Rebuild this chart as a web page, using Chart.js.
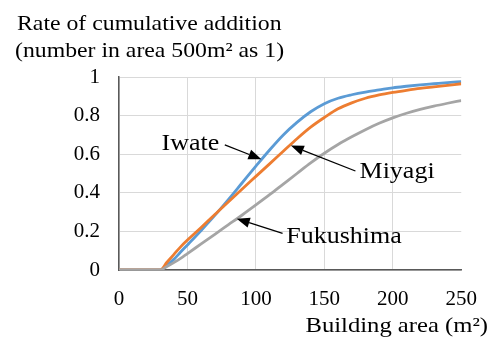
<!DOCTYPE html>
<html>
<head>
<meta charset="utf-8">
<script src="https://cdn.jsdelivr.net/npm/chart.js@4.4.1/dist/chart.umd.min.js"></script>
<style>
  html, body { margin: 0; padding: 0; background: #ffffff; }
  #wrap { width: 494px; height: 338px; }
</style>
</head>
<body>
<div id="wrap"><canvas id="chart" width="494" height="338"></canvas></div>
<script>
// Building area (m²) at which each cumulative rate is sampled
const areas = [0, 10, 20, 30, 35, 40, 45, 50, 60, 70, 80, 90, 100, 110, 120, 130, 140, 150, 160, 170, 180, 190, 200, 210, 220, 230, 240, 250];

// Cumulative rate per prefecture (count within 500 m² taken as 1)
const iwate     = [0, 0, 0, 0, 0.025, 0.055, 0.093, 0.13, 0.205, 0.283, 0.366, 0.452, 0.538, 0.622, 0.70, 0.765, 0.82, 0.862, 0.89, 0.908, 0.922, 0.933, 0.944, 0.952, 0.959, 0.965, 0.971, 0.976];
const miyagi    = [0, 0, 0, 0, 0.04, 0.08, 0.12, 0.155, 0.22, 0.288, 0.354, 0.42, 0.485, 0.55, 0.615, 0.68, 0.74, 0.79, 0.835, 0.866, 0.89, 0.907, 0.92, 0.931, 0.941, 0.949, 0.957, 0.965];
const fukushima = [0, 0, 0, 0, 0.018, 0.038, 0.06, 0.085, 0.135, 0.185, 0.235, 0.285, 0.337, 0.39, 0.445, 0.50, 0.555, 0.605, 0.65, 0.69, 0.727, 0.76, 0.788, 0.812, 0.832, 0.849, 0.864, 0.878];

// Axis ticks and labels
const xTickValues = [0, 50, 100, 150, 200, 250];
const yTickValues = [0, 0.2, 0.4, 0.6, 0.8, 1];
const yTickLabels = ['0', '0.2', '0.4', '0.6', '0.8', '1'];
const seriesNames = ['Iwate', 'Miyagi', 'Fukushima'];
const titleLines = ['Rate of cumulative addition', '(number in area 500m\u00B2 as 1)'];
const xAxisLabel = 'Building area (m\u00B2)';

const SERIF = '"Liberation Serif", "Times New Roman", serif';
const toPoints = (vals) => areas.map((a, i) => ({ x: a, y: vals[i] }));

// Writes text slightly widened horizontally
function wideText(ctx, text, x, y, size, stretch, align) {
  ctx.save();
  ctx.font = size + 'px ' + SERIF;
  ctx.fillStyle = '#000000';
  ctx.textBaseline = 'alphabetic';
  ctx.textAlign = 'left';
  const w = ctx.measureText(text).width * stretch;
  const left = align === 'right' ? x - w : x;
  ctx.translate(left, y);
  ctx.scale(stretch, 1);
  ctx.fillText(text, 0, 0);
  ctx.restore();
}

// Title above the value axis and label under the area axis
const captionPlugin = {
  id: 'captions',
  afterDraw(chart) {
    const ctx = chart.ctx;
    wideText(ctx, titleLines[0], 17, 30, 22, 1.08, 'left');
    wideText(ctx, titleLines[1], 15, 57, 22, 1.08, 'left');
    wideText(ctx, xAxisLabel, 488, 332, 22, 1.12, 'right');
  }
};

// Series names with arrows pointing at their curves (positions in data units)
const callouts = [
  { name: seriesNames[0], text: [31.1, 0.622], tail: [77.3, 0.648], tip: [104, 0.574] },
  { name: seriesNames[1], text: [175.7, 0.475], tail: [172.7, 0.513], tip: [125.5, 0.645] },
  { name: seriesNames[2], text: [122.2, 0.141], tail: [119.5, 0.19], tip: [86, 0.266] }
];

const calloutPlugin = {
  id: 'callouts',
  afterDatasetsDraw(chart) {
    const ctx = chart.ctx;
    const xs = chart.scales.x, ys = chart.scales.y;
    callouts.forEach(c => {
      const tx = xs.getPixelForValue(c.tail[0]), ty = ys.getPixelForValue(c.tail[1]);
      const px = xs.getPixelForValue(c.tip[0]), py = ys.getPixelForValue(c.tip[1]);
      const ang = Math.atan2(py - ty, px - tx);
      const headLen = 13, headHalf = 5;
      const bx = px - headLen * Math.cos(ang), by = py - headLen * Math.sin(ang);
      ctx.save();
      ctx.strokeStyle = '#000000';
      ctx.fillStyle = '#000000';
      ctx.lineWidth = 1.3;
      ctx.beginPath();
      ctx.moveTo(tx, ty);
      ctx.lineTo(bx, by);
      ctx.stroke();
      ctx.beginPath();
      ctx.moveTo(px, py);
      ctx.lineTo(bx + headHalf * Math.sin(ang), by - headHalf * Math.cos(ang));
      ctx.lineTo(bx - headHalf * Math.sin(ang), by + headHalf * Math.cos(ang));
      ctx.closePath();
      ctx.fill();
      ctx.restore();
      wideText(ctx, c.name, xs.getPixelForValue(c.text[0]), ys.getPixelForValue(c.text[1]), 23, 1.13, 'left');
    });
  }
};

const lineStyle = (color, order) => ({
  borderColor: color,
  backgroundColor: color,
  borderWidth: 2.8,
  pointRadius: 0,
  fill: false,
  cubicInterpolationMode: 'monotone',
  order: order
});

new Chart(document.getElementById('chart'), {
  type: 'line',
  data: {
    datasets: [
      Object.assign({ label: seriesNames[0], data: toPoints(iwate) }, lineStyle('#5B9BD5', 3)),
      Object.assign({ label: seriesNames[1], data: toPoints(miyagi) }, lineStyle('#ED7D31', 2)),
      Object.assign({ label: seriesNames[2], data: toPoints(fukushima) }, lineStyle('#A5A5A5', 1))
    ]
  },
  options: {
    responsive: false,
    animation: false,
    devicePixelRatio: 1,
    layout: { padding: { left: 0, top: 77, right: 32, bottom: 0 } },
    plugins: {
      legend: { display: false },
      tooltip: { enabled: false },
      title: { display: false }
    },
    scales: {
      x: {
        type: 'linear',
        min: xTickValues[0],
        max: xTickValues[xTickValues.length - 1],
        afterBuildTicks(scale) { scale.ticks = xTickValues.map(v => ({ value: v })); },
        afterFit(scale) { scale.height = 68; },
        ticks: {
          color: '#000000',
          font: { family: SERIF, size: 21 },
          padding: 17,
          maxRotation: 0,
          autoSkip: false,
          callback: (v) => String(v)
        },
        grid: {
          drawTicks: false,
          lineWidth: 1,
          color: (ctx) => (ctx.tick && ctx.tick.value === xTickValues[xTickValues.length - 1]) ? 'rgba(0,0,0,0)' : '#D9D9D9'
        },
        border: { display: true, color: '#595959', width: 1.5 }
      },
      y: {
        min: yTickValues[0],
        max: yTickValues[yTickValues.length - 1],
        afterBuildTicks(scale) { scale.ticks = yTickValues.map(v => ({ value: v })); },
        afterFit(scale) { scale.width = 119; },
        ticks: {
          color: '#000000',
          font: { family: SERIF, size: 21 },
          padding: 19,
          autoSkip: false,
          callback: (v) => yTickLabels[yTickValues.indexOf(Math.round(v * 10) / 10)] ?? String(v)
        },
        grid: { drawTicks: false, lineWidth: 1, color: '#D9D9D9' },
        border: { display: true, color: '#595959', width: 1.5 }
      }
    }
  },
  plugins: [calloutPlugin, captionPlugin]
});
</script>
</body>
</html>
